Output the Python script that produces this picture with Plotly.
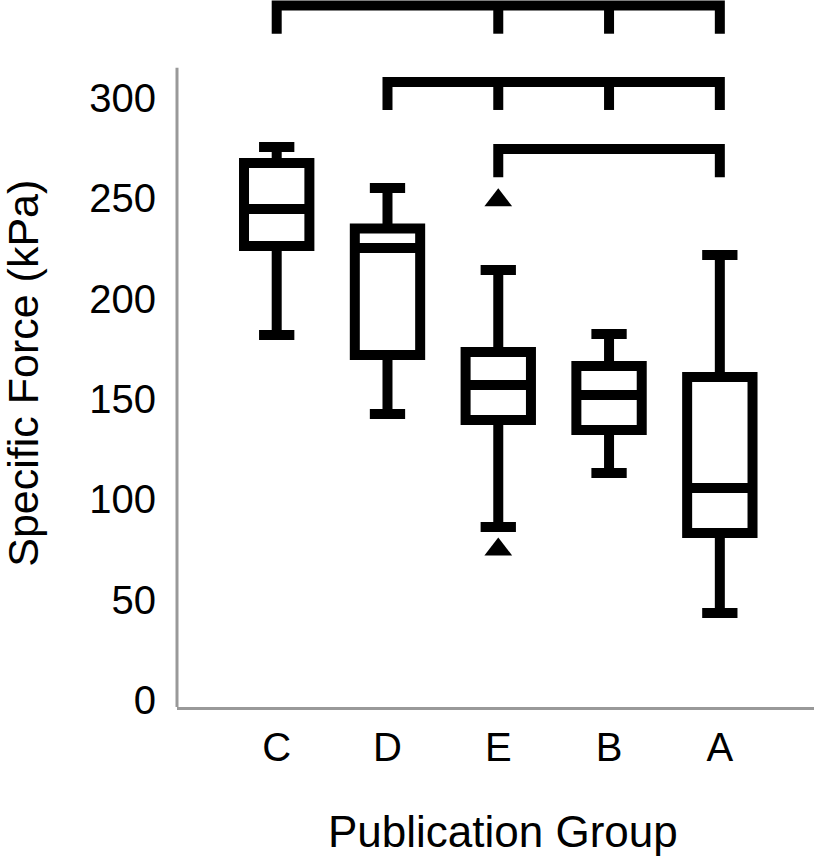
import plotly.graph_objects as go

GROUPS = ["C", "D", "E", "B", "A"]
LOWER_WHISKER = [181.9, 142.5, 86.2, 113.1, 43.3]
Q1 = [226.2, 171.9, 139.5, 134.5, 83.2]
MEDIAN = [244.6, 225.2, 157.0, 152.0, 105.6]
Q3 = [267.6, 235.0, 173.4, 166.4, 160.9]
UPPER_WHISKER = [275.5, 255.1, 214.2, 182.4, 221.7]

OUTLIER_GROUPS = ["E", "E"]
OUTLIER_VALUES = [249.0, 75.0]

# significance brackets: groups spanned, height of the bar (kPa)
BRACKET_GROUPS = [["C", "E", "B", "A"], ["D", "E", "B", "A"], ["E", "A"]]
BRACKET_LEVELS = [346.0, 308.0, 274.5]
BRACKET_DROP = 14.0

Y_TICKS = [0, 50, 100, 150, 200, 250, 300]
Y_MIN, Y_MAX = -3.5, 348.8
Y_AXIS_TOP = 315.0

FONT = "Liberation Sans, Arial, sans-serif"
AXIS_GREY = "#999999"


def bracket_path(groups, level):
    xs, ys = [], []
    xs += [groups[0], groups[0], groups[-1], groups[-1], None]
    ys += [level - BRACKET_DROP, level, level, level - BRACKET_DROP, None]
    for g in groups[1:-1]:
        xs += [g, g, None]
        ys += [level, level - BRACKET_DROP, None]
    return xs, ys


fig = go.Figure()

fig.add_trace(
    go.Box(
        x=GROUPS,
        q1=Q1,
        median=MEDIAN,
        q3=Q3,
        lowerfence=LOWER_WHISKER,
        upperfence=UPPER_WHISKER,
        width=0.59,
        whiskerwidth=0.54,
        fillcolor="white",
        line=dict(color="black", width=10),
        boxpoints=False,
        showlegend=False,
        hoverinfo="skip",
    )
)

fig.add_trace(
    go.Scatter(
        x=OUTLIER_GROUPS,
        y=OUTLIER_VALUES,
        mode="markers",
        marker=dict(symbol="triangle-up", size=24, color="black"),
        showlegend=False,
        hoverinfo="skip",
    )
)

for groups, level in zip(BRACKET_GROUPS, BRACKET_LEVELS):
    bx, by = bracket_path(groups, level)
    fig.add_trace(
        go.Scatter(
            x=bx,
            y=by,
            mode="lines",
            line=dict(color="black", width=10),
            connectgaps=False,
            showlegend=False,
            hoverinfo="skip",
        )
    )

# y axis line only reaches a bit above 300, brackets sit above it
fig.add_shape(
    type="line",
    xref="paper",
    yref="paper",
    x0=0,
    x1=0,
    y0=0,
    y1=(Y_AXIS_TOP - Y_MIN) / (Y_MAX - Y_MIN),
    line=dict(color=AXIS_GREY, width=3),
)

# axis titles as annotations so they can sit slightly off-centre like the original
fig.add_annotation(
    text="Publication Group",
    xref="paper",
    yref="paper",
    x=0.512,
    y=-0.176,
    xanchor="center",
    yanchor="middle",
    showarrow=False,
    font=dict(size=44, family=FONT, color="black"),
)
fig.add_annotation(
    text="Specific Force (kPa)",
    xref="paper",
    yref="paper",
    x=-0.241,
    y=0.472,
    xanchor="center",
    yanchor="middle",
    textangle=-90,
    showarrow=False,
    font=dict(size=43, family=FONT, color="black"),
)

fig.update_layout(
    width=814,
    height=862,
    margin=dict(l=177, r=0, t=0, b=155),
    paper_bgcolor="white",
    plot_bgcolor="white",
    font=dict(family=FONT, color="black"),
    xaxis=dict(
        type="category",
        categoryorder="array",
        categoryarray=GROUPS,
        range=[-0.9, 4.85],
        showline=True,
        linecolor=AXIS_GREY,
        linewidth=3,
        showgrid=False,
        zeroline=False,
        ticks="",
        ticklabelstandoff=3,
        tickfont=dict(size=40, family=FONT),
    ),
    yaxis=dict(
        range=[Y_MIN, Y_MAX],
        tickvals=Y_TICKS,
        showline=False,
        showgrid=False,
        zeroline=False,
        ticks="",
        ticklabelstandoff=20,
        tickfont=dict(size=40, family=FONT),
    ),
)

# drop the default page margin so the figure sits at the window's corner
fig.write_html(
    "out.html",
    config={"displayModeBar": False},
    post_script="document.body.style.margin = '0';",
)
